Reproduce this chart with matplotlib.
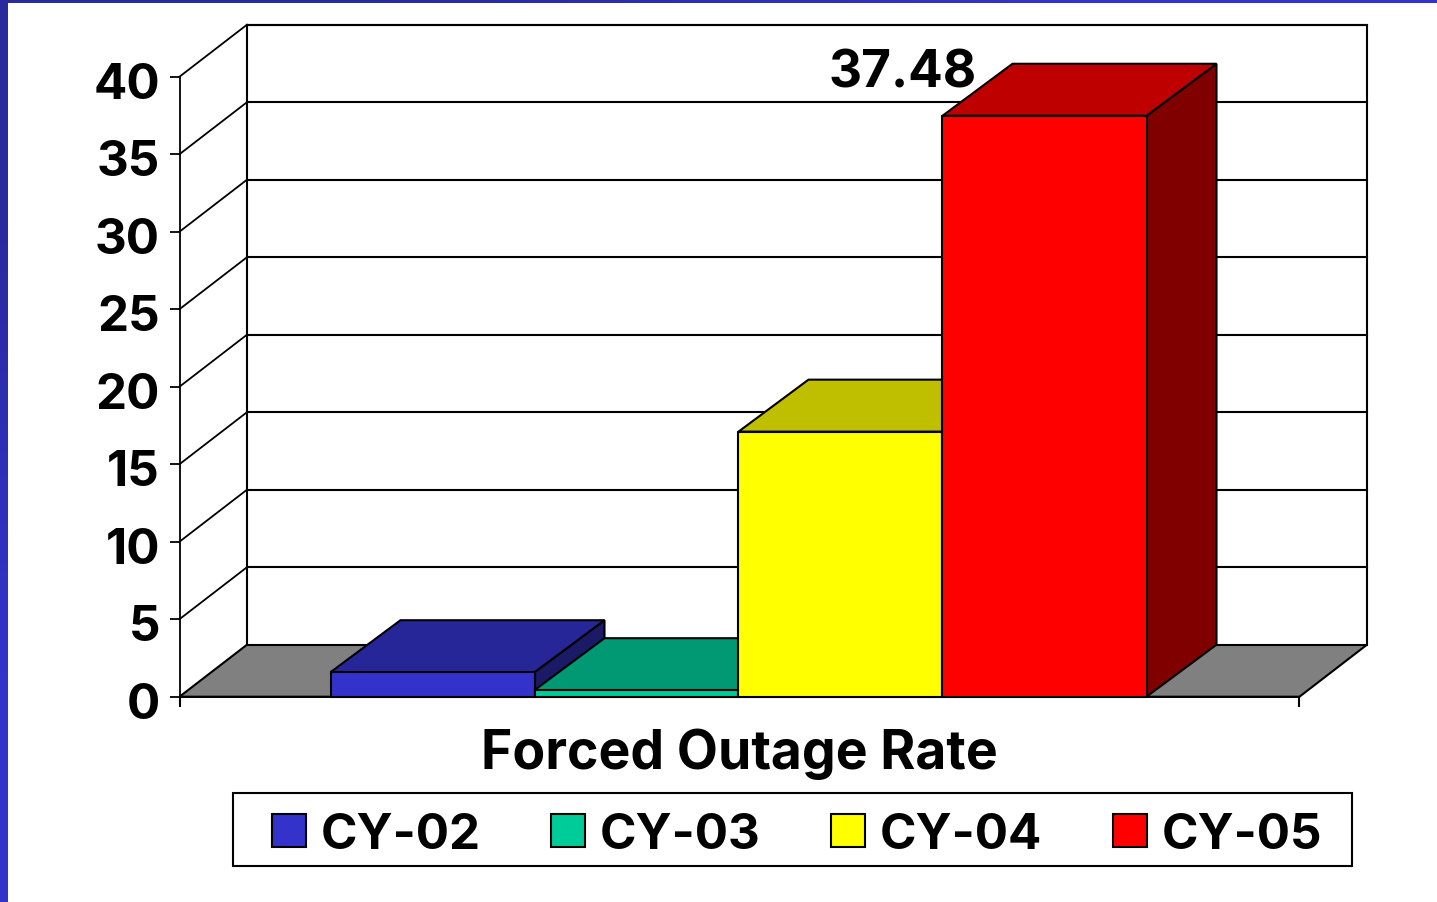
import matplotlib

matplotlib.use("Agg")
import matplotlib.pyplot as plt
from matplotlib.colors import LinearSegmentedColormap
from matplotlib.patches import Patch, Polygon, Rectangle
from matplotlib.transforms import ScaledTranslation

categories = ["CY-02", "CY-03", "CY-04", "CY-05"]
values = [1.58, 0.42, 17.1, 37.48]
front_colors = ["#3333CC", "#00CC99", "#FFFF00", "#FF0000"]
top_colors = ["#262699", "#009973", "#BFBF00", "#BF0000"]
side_colors = ["#1A1A66", "#00664D", "#808000", "#800000"]
y_ticks = [0, 5, 10, 15, 20, 25, 30, 35, 40]
axis_title = "Forced Outage Rate"

W, H = 1437, 903
FONT = ["Inter", "DejaVu Sans"]
TICK_SIZE = 35.5
LW = 1.5

# pixel geometry of the plot box
PX_LEFT, PX_RIGHT, PX_BOTTOM, PX_TOP = 179.5, 1368, 697.7, 24.7
PX_PER_UNIT_Y = 15.5
PX_BAR = 204.0

plt.rcParams["font.family"] = FONT
plt.rcParams["font.weight"] = "bold"

fig = plt.figure(figsize=(W / 100, H / 100), dpi=100, facecolor="white")
ax = fig.add_axes(
    [
        PX_LEFT / W,
        (H - PX_BOTTOM) / H,
        (PX_RIGHT - PX_LEFT) / W,
        (PX_BOTTOM - PX_TOP) / H,
    ]
)
ax.set_xlim(0, (PX_RIGHT - PX_LEFT) / PX_BAR)
ax.set_ylim(0, (PX_BOTTOM - PX_TOP) / PX_PER_UNIT_Y)
ax.patch.set_visible(False)

# depth of the fake 3d box in axis units, bars stick out slightly more
dx = 67.5 / PX_BAR
dy = 52 / PX_PER_UNIT_Y
bar_dx = 70 / PX_BAR
front_width = 1120 / PX_BAR
bar_start = (front_width - len(categories)) / 2 - 1 / PX_BAR


def poly(points, color, z):
    ax.add_patch(
        Polygon(
            points,
            closed=True,
            facecolor=color,
            edgecolor="black",
            linewidth=LW,
            joinstyle="miter",
            zorder=z,
            clip_on=False,
        )
    )


# walls and floor
top = y_ticks[-1]
poly([(0, 0), (front_width, 0), (front_width + dx, dy), (dx, dy)], "#808080", 1)
poly(
    [(dx, dy), (front_width + dx, dy), (front_width + dx, top + dy), (dx, top + dy)],
    "white",
    1,
)
for t in y_ticks[1:]:
    ax.plot([0, dx], [t, t + dy], color="black", lw=1.3, zorder=2, clip_on=False)
    ax.plot(
        [dx, front_width + dx],
        [t + dy, t + dy],
        color="black",
        lw=LW,
        zorder=2,
        clip_on=False,
    )

# bars, left to right so the later ones cover the earlier ones
for i, v in enumerate(values):
    x0 = bar_start + i
    x1 = x0 + 1
    z = 3 + i
    poly(
        [(x1, 0), (x1 + bar_dx, dy), (x1 + bar_dx, v + dy), (x1, v)],
        side_colors[i],
        z,
    )
    poly(
        [(x0, v), (x1, v), (x1 + bar_dx, v + dy), (x0 + bar_dx, v + dy)],
        top_colors[i],
        z,
    )
    poly([(x0, 0), (x1, 0), (x1, v), (x0, v)], front_colors[i], z)

for name, spine in ax.spines.items():
    spine.set_visible(name in ("left", "bottom"))
    spine.set_linewidth(1.3)
    spine.set_zorder(10)
ax.spines["left"].set_bounds(0, top)
ax.spines["bottom"].set_bounds(0, front_width)

ax.set_yticks(y_ticks)
ax.set_yticklabels([str(t) for t in y_ticks])
ax.set_xticks([0, front_width])
ax.set_xticklabels(["", ""])
ax.tick_params(axis="y", length=7, width=1.3, pad=7, labelsize=TICK_SIZE)
ax.tick_params(axis="x", length=7, width=1.5)
# tick numbers sit a little below their ticks
down = ScaledTranslation(0, -3 / 100, fig.dpi_scale_trans)
for lab in ax.get_yticklabels():
    lab.set_transform(lab.get_transform() + down)

ax.text(
    front_width / 2,
    -4.6,
    axis_title,
    ha="center",
    va="baseline",
    fontsize=38.5,
    fontweight="bold",
)

# only the tallest bar carries a label
ax.annotate(
    f"{values[3]:.2f}",
    xy=(bar_start + 3, values[3]),
    xytext=(-28.5, 21),
    textcoords="offset points",
    ha="center",
    va="baseline",
    fontsize=37,
    fontweight="bold",
    zorder=20,
)

# legend box is wider than it is padded, so the frame is its own rectangle
fig.add_artist(
    Rectangle(
        (233 / W, (H - 867) / H),
        (1352 - 233) / W,
        (867 - 794) / H,
        transform=fig.transFigure,
        facecolor="white",
        edgecolor="black",
        lw=LW,
    )
)
handles = [
    Patch(facecolor=c, edgecolor="black", linewidth=LW, label=n)
    for c, n in zip(front_colors, categories)
]
fig.legend(
    handles=handles,
    ncol=4,
    loc="center",
    bbox_to_anchor=(797 / W, (H - 836) / H),
    fontsize=TICK_SIZE,
    frameon=False,
    handlelength=0.69,
    handleheight=0.65,
    handletextpad=0.3,
    columnspacing=1.43,
    borderpad=0,
    borderaxespad=0,
)

# slide border, both strips fade from dark to lighter blue
strip_cmap = LinearSegmentedColormap.from_list("strip", ["#2A2A9F", "#3333CC"])
left_strip = fig.add_axes([0, 0, 7 / W, 1])
left_strip.imshow([[0], [1]], cmap=strip_cmap, aspect="auto", interpolation="bilinear")
left_strip.axis("off")
top_strip = fig.add_axes([0, 1 - 4 / H, 1, 4 / H])
top_strip.imshow([[0, 1]], cmap=strip_cmap, aspect="auto", interpolation="bilinear")
top_strip.axis("off")

fig.savefig("out.png", dpi=100)
plt.close(fig)
